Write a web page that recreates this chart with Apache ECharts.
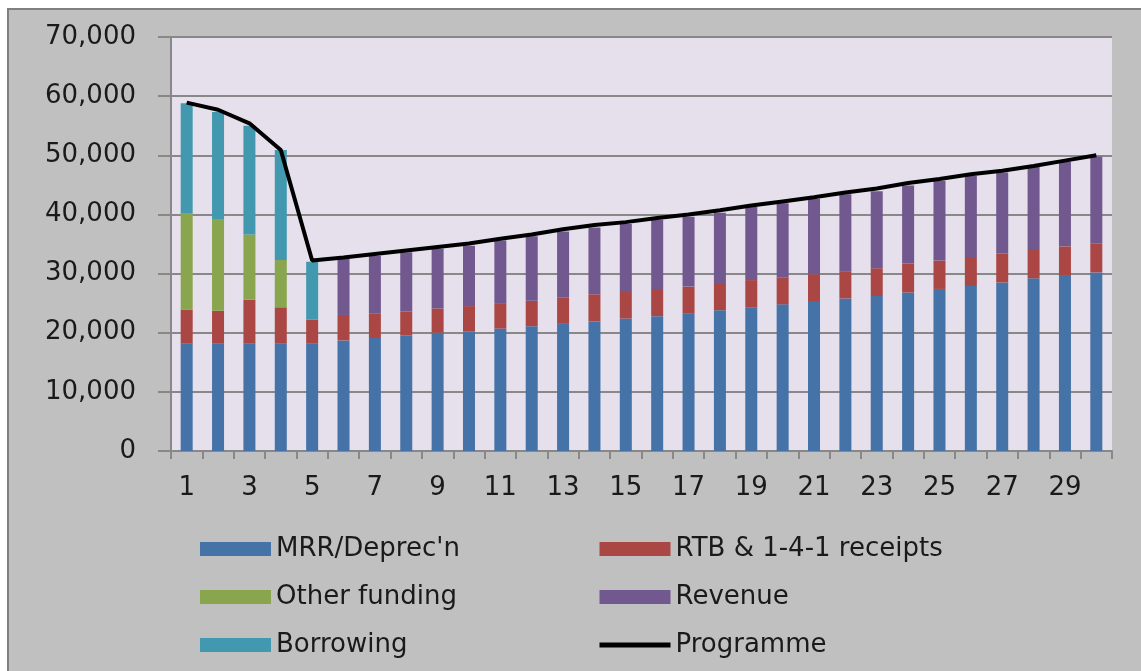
<!DOCTYPE html>
<html>
<head>
<meta charset="utf-8">
<title>Capital funding</title>
<script src="https://cdn.jsdelivr.net/npm/echarts@6.0.0/dist/echarts.min.js"></script>
<style>
  html, body { margin: 0; padding: 0; background: #fff; }
  #frame {
    position: absolute; left: 7px; top: 8px; right: 0; bottom: 0;
    background: #c0c0c0;
    border-top: 2px solid #808080; border-left: 2px solid #808080;
  }
  #main { position: absolute; left: 0; top: 0; width: 1141px; height: 671px; }
</style>
</head>
<body>
<div id="frame"></div>
<div id="main"></div>
<script>
// years 1..30
const years = [];
for (let i = 1; i <= 30; i++) years.push(String(i));

const mrr = [18200, 18200, 18200, 18200, 18200, 18700, 19100, 19500, 20000, 20200,
             20700, 21100, 21500, 21900, 22400, 22800, 23200, 23800, 24300, 24800,
             25200, 25800, 26200, 26800, 27400, 27900, 28500, 29200, 29600, 30200];
const rtb = [5700, 5500, 7400, 6100, 4000, 4300, 4100, 4100, 4100, 4300,
             4300, 4300, 4400, 4600, 4500, 4600, 4600, 4600, 4600, 4500,
             4700, 4600, 4700, 4900, 4800, 4900, 4900, 4800, 5000, 4900];
const otherFunding = [16200, 15400, 11000, 8000, 0, 0, 0, 0, 0, 0,
                      0, 0, 0, 0, 0, 0, 0, 0, 0, 0,
                      0, 0, 0, 0, 0, 0, 0, 0, 0, 0];
const revenue = [0, 0, 0, 0, 0, 9500, 9800, 10000, 10100, 10200,
                 10600, 10900, 11200, 11300, 11500, 11700, 11800, 11900, 12400, 12600,
                 12700, 13000, 13000, 13200, 13500, 13700, 13700, 14000, 14300, 14700];
const borrowing = [18700, 18200, 18400, 18600, 9800, 0, 0, 0, 0, 0,
                   0, 0, 0, 0, 0, 0, 0, 0, 0, 0,
                   0, 0, 0, 0, 0, 0, 0, 0, 0, 0];
const programme = [58900, 57700, 55400, 50900, 32200, 32700, 33300, 33900, 34500, 35100,
                   35900, 36600, 37500, 38200, 38700, 39400, 40000, 40700, 41500, 42200,
                   42900, 43700, 44400, 45300, 46000, 46800, 47400, 48200, 49100, 50000];

const font = 'DejaVu Sans';
const gridColor = '#888888';
const txt = '#1a1a1a';

function bar(name, data, color) {
    return {
        name: name, type: 'bar', stack: 'total', data: data,
        barWidth: 12, itemStyle: { color: color }
    };
}

const legendText = { fontFamily: font, fontSize: 26, lineHeight: 26, color: txt };

let myChart = echarts.init(document.getElementById('main'));
myChart.setOption({
    animation: false,
    textStyle: { fontFamily: font },
    grid: {
        left: 171, right: 29, top: 37, bottom: 220,
        show: true, backgroundColor: '#e5e0ec', borderWidth: 0
    },
    legend: [{
        left: 195, top: 531, orient: 'vertical', itemGap: 22,
        itemWidth: 71, itemHeight: 14, icon: 'rect',
        textStyle: legendText,
        data: ["MRR/Deprec'n", 'Other funding', 'Borrowing']
    }, {
        left: 592, top: 531, orient: 'vertical', itemGap: 22,
        itemWidth: 71, itemHeight: 14,
        textStyle: legendText,
        data: [{ name: 'RTB & 1-4-1 receipts', icon: 'rect' },
               { name: 'Revenue', icon: 'rect' },
               { name: 'Programme',
                 itemStyle: { color: 'transparent', borderWidth: 0 },
                 lineStyle: { color: '#000', width: 5 } }]
    }],
    xAxis: {
        type: 'category', data: years,
        axisLine: { lineStyle: { color: gridColor, width: 2 } },
        axisTick: { show: true, interval: 0, length: 8, lineStyle: { color: gridColor, width: 2 } },
        axisLabel: { interval: 1, margin: 24, fontSize: 26, color: txt, fontFamily: font }
    },
    yAxis: {
        type: 'value', min: 0, max: 70000, interval: 10000,
        axisLine: { show: true, lineStyle: { color: gridColor, width: 2 } },
        axisTick: { show: true, length: 13, lineStyle: { color: gridColor, width: 2 } },
        splitLine: { lineStyle: { color: gridColor, width: 2 } },
        axisLabel: {
            margin: 35, fontSize: 26, color: txt, fontFamily: font,
            formatter: v => v.toLocaleString('en-US')
        }
    },
    series: [
        bar("MRR/Deprec'n", mrr, '#4572a7'),
        bar('RTB & 1-4-1 receipts', rtb, '#aa4643'),
        bar('Other funding', otherFunding, '#89a54e'),
        bar('Revenue', revenue, '#71588f'),
        bar('Borrowing', borrowing, '#4198af'),
        {
            name: 'Programme', type: 'line', data: programme,
            symbol: 'none', lineStyle: { color: '#000', width: 4 },
            itemStyle: { color: '#000' }, z: 5
        }
    ]
});
</script>
</body>
</html>
